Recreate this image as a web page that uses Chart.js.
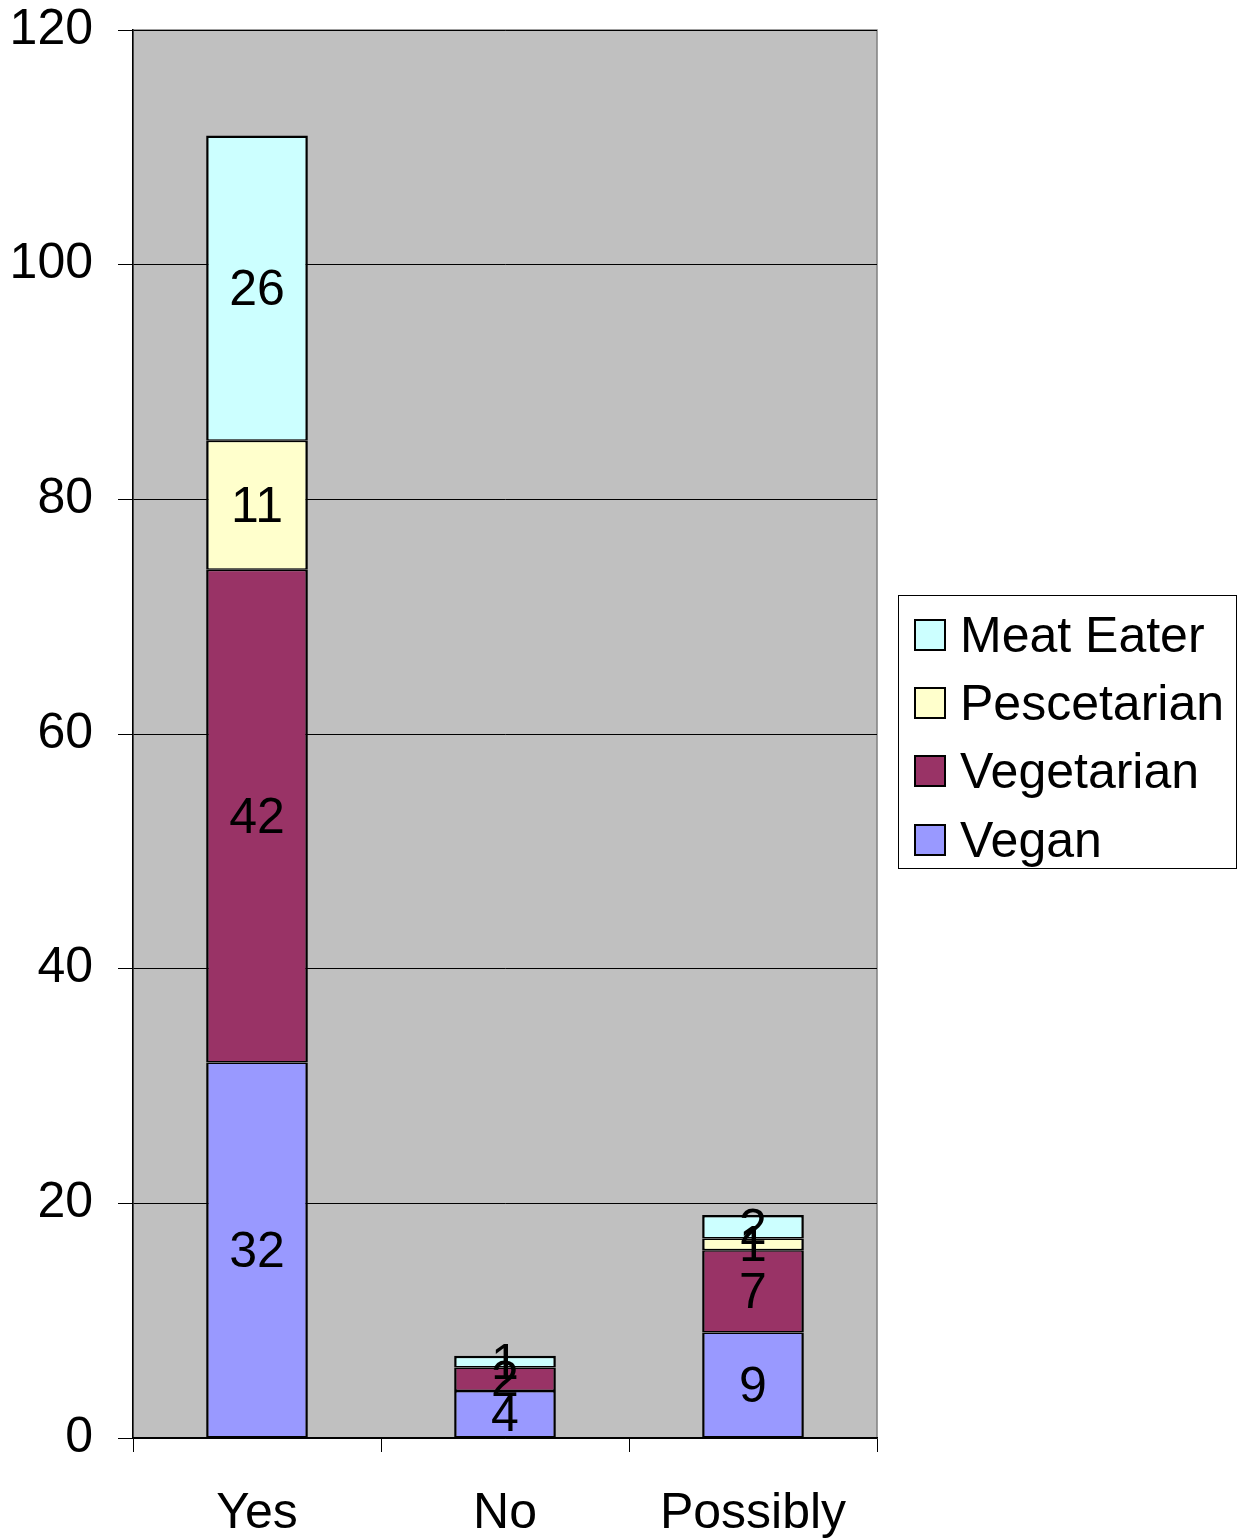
<!DOCTYPE html>
<html>
<head>
<meta charset="utf-8">
<script src="https://cdn.jsdelivr.net/npm/chart.js@4/dist/chart.umd.min.js"></script>
<style>
  html, body { margin: 0; padding: 0; background: #fff; }
  #wrap { position: relative; width: 1239px; height: 1538px; }
  canvas { position: absolute; left: 0; top: 0; }
  #legend {
    position: absolute; left: 898px; top: 595px; width: 337px; height: 272px;
    border: 1px solid #000; background: #fff; box-sizing: content-box;
    font-family: 'Liberation Sans', Arial, sans-serif; font-size: 50px; color: #000;
  }
  .item { position: absolute; left: 15px; height: 40px; line-height: 40px; white-space: nowrap; }
  .sw { position: absolute; left: 0; top: 4px; width: 28px; height: 28px; border: 2px solid #000; }
  .lbl { position: absolute; left: 46px; top: 0; }
</style>
</head>
<body>
<div id="wrap">
  <canvas id="c" width="1239" height="1538"></canvas>
  <div id="legend"></div>
</div>
<script>
const categories = ['Yes', 'No', 'Possibly'];
const vegan = [32, 4, 9];
const vegetarian = [42, 2, 7];
const pescetarian = [11, 0, 1];
const meatEater = [26, 1, 2];
const seriesNames = ['Vegan', 'Vegetarian', 'Pescetarian', 'Meat Eater'];
const seriesColors = ['#9999FF', '#993366', '#FFFFCC', '#CCFFFF'];
const yMin = 0, yMax = 120, yStep = 20;

const FONT = "'Liberation Sans', Arial, sans-serif";
const seriesData = [vegan, vegetarian, pescetarian, meatEater];

const datasets = seriesNames.map((n, i) => ({
  label: n,
  data: seriesData[i],
  backgroundColor: seriesColors[i],
  borderColor: '#000',
  borderWidth: { left: 2.5, right: 2.5, top: (i === seriesNames.length - 1 ? 2.5 : 1.5), bottom: 1.5 },
  borderSkipped: false,
  categoryPercentage: 1.0,
  barPercentage: 0.41
}));

const plotBg = {
  id: 'plotBg',
  beforeDraw(chart) {
    const a = chart.chartArea, ctx = chart.ctx;
    ctx.save();
    ctx.fillStyle = '#C0C0C0';
    ctx.fillRect(a.left, a.top, a.right - a.left, a.bottom - a.top);
    ctx.strokeStyle = '#808080';
    ctx.lineWidth = 1.5;
    ctx.strokeRect(a.left, a.top, a.right - a.left, a.bottom - a.top);
    ctx.restore();
  }
};

const valueLabels = {
  id: 'valueLabels',
  afterDatasetsDraw(chart) {
    const ctx = chart.ctx;
    ctx.save();
    ctx.font = '50px ' + FONT;
    ctx.fillStyle = '#000';
    ctx.textAlign = 'center';
    ctx.textBaseline = 'middle';
    chart.data.datasets.forEach((ds, di) => {
      const meta = chart.getDatasetMeta(di);
      meta.data.forEach((el, j) => {
        const v = ds.data[j];
        if (!v) return;
        ctx.fillText(String(v), el.x, (el.y + el.base) / 2 + 3);
      });
    });
    ctx.restore();
  }
};

new Chart(document.getElementById('c'), {
  type: 'bar',
  data: { labels: categories, datasets },
  plugins: [plotBg, valueLabels],
  options: {
    responsive: false,
    animation: false,
    devicePixelRatio: 1,
    layout: { padding: { top: 30, right: 362, left: 0, bottom: 0 } },
    plugins: { legend: { display: false }, tooltip: { enabled: false } },
    scales: {
      x: {
        stacked: true,
        afterFit(s) { s.height = 100; s.paddingLeft = 0; s.paddingRight = 0; },
        grid: { display: true, drawOnChartArea: false, offset: true, tickLength: 14, color: '#000', lineWidth: 1 },
        border: { display: true, color: '#000', width: 1.5 },
        ticks: { color: '#000', font: { family: FONT, size: 50 }, padding: 32, maxRotation: 0 }
      },
      y: {
        stacked: true,
        min: yMin, max: yMax,
        afterFit(s) { s.width = 133; s.paddingTop = 0; s.paddingBottom = 0; },
        grid: { display: true, drawOnChartArea: true, tickLength: 15, color: '#000', lineWidth: 1 },
        border: { display: true, color: '#000', width: 1.5 },
        ticks: { stepSize: yStep, color: '#000', font: { family: FONT, size: 50 }, padding: 25 }
      }
    }
  }
});

// legend (reverse order like reference)
const leg = document.getElementById('legend');
const tops = [19, 87, 155, 224];
for (let k = 0; k < seriesNames.length; k++) {
  const i = seriesNames.length - 1 - k;
  const it = document.createElement('div');
  it.className = 'item';
  it.style.top = tops[k] + 'px';
  it.innerHTML = '<div class="sw" style="background:' + seriesColors[i] + '"></div><span class="lbl">' + seriesNames[i] + '</span>';
  leg.appendChild(it);
}
</script>
</body>
</html>
